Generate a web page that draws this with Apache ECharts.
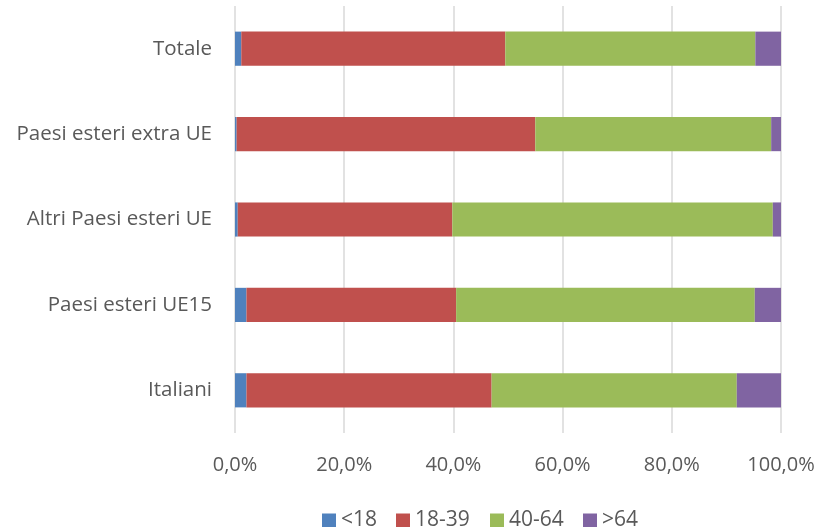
<!DOCTYPE html>
<html>
<head>
<meta charset="utf-8">
<script src="https://cdn.jsdelivr.net/npm/echarts@6/dist/echarts.min.js"></script>
<style>html,body{margin:0;padding:0;background:#fff}#c{width:819px;height:527px}</style>
</head>
<body>
<div id="c"></div>
<script>
const categories = ['Italiani', 'Paesi esteri UE15', 'Altri Paesi esteri UE', 'Paesi esteri extra UE', 'Totale'];
const seriesNames = ['<18', '18-39', '40-64', '>64'];
const under18 = [2.1, 2.1, 0.5, 0.3, 1.15];
const age18_39 = [44.9, 38.4, 39.3, 54.7, 48.35];
const age40_64 = [44.9, 54.7, 58.7, 43.2, 45.8];
const over64 = [8.1, 4.8, 1.5, 1.8, 4.7];
const xTicks = [0, 20, 40, 60, 80, 100];
const colors = ['#4F81BD', '#C0504D', '#9BBB59', '#8064A2'];

const font = 'Open Sans';
const values = [under18, age18_39, age40_64, over64];
const legendLefts = [322, 396, 490, 583];
const chart = echarts.init(document.getElementById('c'));
chart.setOption({
  animation: false,
  textStyle: { fontFamily: font },
  grid: { left: 235, right: 38, top: 6, bottom: 94, containLabel: false },
  legend: seriesNames.map((n, i) => ({
    top: 510, left: legendLefts[i], padding: 0,
    itemWidth: 14, itemHeight: 14, itemGap: 0,
    icon: 'rect',
    textStyle: { fontSize: 21, color: '#595959', fontFamily: font },
    data: [n]
  })),
  xAxis: {
    type: 'value', min: xTicks[0], max: xTicks[xTicks.length - 1], interval: 20,
    axisLine: { show: false }, axisTick: { show: false },
    splitLine: { lineStyle: { color: '#d9d9d9', width: 1.5 } },
    axisLabel: { margin: 22, fontSize: 20, color: '#595959', fontFamily: font,
      formatter: v => v.toFixed(1).replace('.', ',') + '%' }
  },
  yAxis: {
    type: 'category', data: categories,
    axisLine: { show: false }, axisTick: { show: false },
    axisLabel: { margin: 23, fontSize: 20.5, color: '#595959', fontFamily: font }
  },
  series: seriesNames.map((n, i) => ({
    name: n, type: 'bar', stack: 'total', barWidth: '40%',
    itemStyle: { color: colors[i] },
    data: values[i]
  }))
});
</script>
</body>
</html>
